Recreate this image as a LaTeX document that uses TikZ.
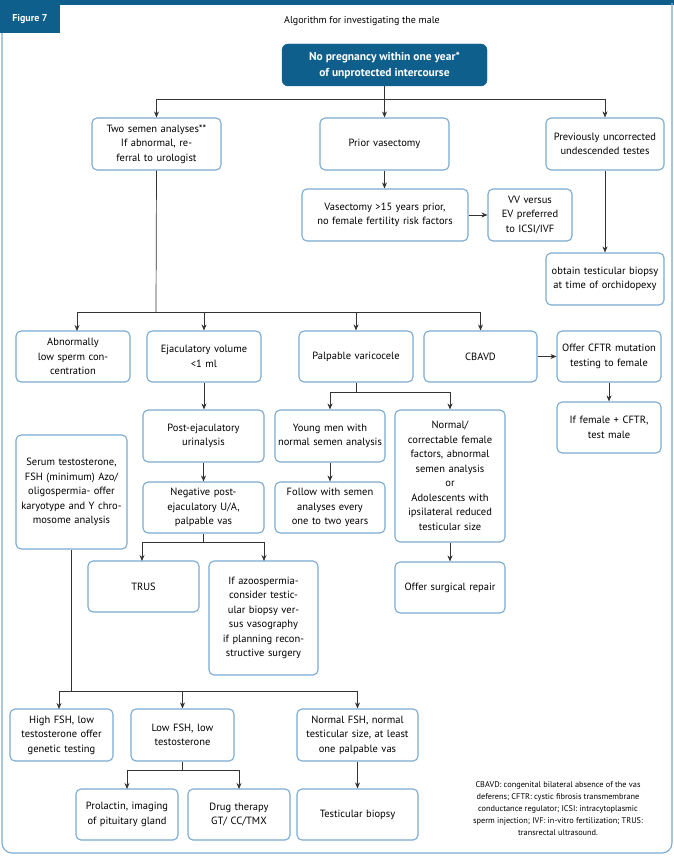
\documentclass[tikz,border=0pt]{standalone}
\usepackage{fontspec}
\setmainfont{PT Sans}
\usetikzlibrary{arrows.meta}
\definecolor{dblue}{HTML}{0F5F8C}
\definecolor{lblue}{HTML}{7AAAD2}
\begin{document}
\begin{tikzpicture}[x=1pt,y=-1pt,
  box/.style={draw=lblue,line width=1.1pt,rounded corners=5pt,align=center,inner sep=1pt,font=\fontsize{10.5}{14.5}\selectfont},
  arr/.style={-{Stealth[length=6pt,width=5pt]},line width=0.7pt,draw=black!80},
  ln/.style={line width=0.7pt,draw=black!80}]
\useasboundingbox (0,0) rectangle (674,856);
\fill[dblue] (0,0) rectangle (674,5);
\draw[lblue,line width=1.1pt,rounded corners=10pt] (2,3) -- (2,853) -- (672,853) -- (672,3);
\fill[dblue] (0,0) rectangle (60,33);
\node[text=white,font=\fontsize{10}{12}\selectfont\bfseries] (fig) at (30,19) {Figure 7};
\node[font=\fontsize{10}{12}\selectfont] (title) at (362,21) {Algorithm for investigating the male};
\newcommand\bx[6]{%
 \pgfmathsetmacro\bw{#4-#2}\pgfmathsetmacro\bh{#5-#3}\pgfmathsetmacro\tw{#4-#2-6}%
 \node[box,minimum width=\bw pt,minimum height=\bh pt,text width=\tw pt] (#1) at ({(#2+#4)/2},{(#3+#5)/2}) {#6};}
\node[draw=dblue,fill=dblue,rounded corners=6pt,minimum width=205pt,minimum height=42pt,text=white,align=center,font=\fontsize{11.5}{16}\selectfont\bfseries] (root) at (384.5,65) {No pregnancy within one year*\\of unprotected intercourse};
\bx{semen}{92}{118}{221}{170}{Two semen analyses**\\If abnormal, referral to urologist}
\bx{prior}{320}{118}{449}{170}{Prior vasectomy}
\bx{prev}{546}{118}{664}{170}{Previously uncorrected undescended testes}
\bx{vas}{302}{189}{468}{241}{Vasectomy >15 years prior,\\no female fertility risk factors}
\bx{vv}{488}{189}{572}{241}{VV versus EV preferred to ICSI/IVF}
\bx{obt}{546}{253}{664}{305}{obtain testicular biopsy at time of orchidopexy}
\bx{abn}{16}{331}{130}{382}{Abnormally\\low sperm concentration}
\bx{ejac}{147}{331}{261}{382}{Ejaculatory volume\\<1 ml}
\bx{palp}{299}{331}{413}{382}{Palpable varicocele}
\bx{cbavd}{424}{331}{537}{382}{CBAVD}
\bx{cftr}{557}{331}{661}{382}{Offer CFTR mutation testing to female}
\bx{fem}{557}{402}{661}{453}{If female + CFTR,\\test male}
\bx{post}{143}{410}{264}{462}{Post-ejaculatory urinalysis}
\bx{neg}{143}{482}{264}{533}{Negative post-ejaculatory U/A, palpable vas}
\bx{young}{275}{410}{385}{462}{Young men with normal semen analysis}
\bx{follow}{275}{482}{385}{533}{Follow with semen analyses every one to two years}
\bx{norm}{395}{410}{505}{542}{Normal/\\correctable female factors, abnormal semen analysis\\or\\Adolescents with ipsilateral reduced testicular size}
\bx{serum}{16}{435}{127}{549}{Serum testosterone, FSH (minimum) Azo/ oligospermia- offer karyotype and Y~chromosome analysis}
\bx{trus}{88}{561}{199}{612}{TRUS}
\bx{azo}{209}{561}{318}{675}{If azoospermia-\\consider testicular biopsy versus vasography\\if planning reconstructive surgery}
\bx{surg}{395}{562}{505}{613}{Offer surgical repair}
\bx{high}{10}{709}{113}{761}{High FSH, low testosterone offer genetic testing}
\bx{low}{131}{709}{234}{761}{Low FSH, low testosterone}
\bx{nfsh}{297}{709}{418}{761}{Normal FSH, normal testicular size, at least one palpable vas}
\bx{prol}{76}{789}{178}{840}{Prolactin, imaging of pituitary gland}
\bx{drug}{188}{789}{290}{840}{Drug therapy GT/ CC/TMX}
\bx{tbio}{297}{789}{418}{840}{Testicular biopsy}
\node[align=center,font=\fontsize{8.3}{12}\selectfont] (foot) at (558,809) {CBAVD: congenital bilateral absence of the vas\\deferens; CFTR: cystic fibrosis transmembrane\\conductance regulator; ICSI: intracytoplasmic\\sperm injection; IVF: in-vitro fertilization; TRUS:\\transrectal ultrasound.};
% connectors
\coordinate (j0) at (384.5,99);
\draw[ln] (root.south) -- (j0);
\draw[ln] (semen.north |- j0) -- (prev.north |- j0);
\foreach \n in {semen,prior,prev} \draw[arr] (\n.north |- j0) -- (\n.north);
\draw[arr] (prior.south) -- (vas.north -| prior.south);
\draw[arr] (vas.east) -- (vv.west);
\draw[arr] (prev.south) -- (obt.north -| prev.south);
\coordinate (j1) at (156,312);
\draw[ln] (semen.south) -- (j1);
\draw[ln] (77,312) -- (cbavd.north |- j1);
\draw[arr] (77,312) -- (77,331);
\foreach \n in {ejac,palp,cbavd} \draw[arr] (\n.north |- j1) -- (\n.north);
\draw[arr] (cbavd.east) -- (cftr.west);
\draw[arr] (cftr.south) -- (fem.north);
\draw[arr] (ejac.south) -- (post.north -| ejac.south);
\draw[arr] (post.south) -- (neg.north);
\coordinate (j2) at (356,392);
\draw[ln] (palp.south) -- (j2);
\draw[ln] (young.north |- j2) -- (norm.north |- j2);
\draw[arr] (young.north |- j2) -- (young.north);
\draw[arr] (norm.north |- j2) -- (norm.north);
\draw[arr] (young.south) -- (follow.north);
\draw[arr] (norm.south) -- (surg.north -| norm.south);
\coordinate (j3) at (203.5,542);
\draw[ln] (neg.south) -- (j3);
\draw[ln] (142,542) -- (264,542);
\draw[arr] (142,542) -- (142,561);
\draw[arr] (264,542) -- (264,561);
\coordinate (j4) at (71.5,691);
\draw[ln] (serum.south) -- (j4);
\draw[ln] (59,691) -- (358,691);
\draw[arr] (59,691) -- (59,709);
\draw[arr] (low.north |- j4) -- (low.north);
\draw[arr] (nfsh.north |- j4) -- (nfsh.north);
\coordinate (j5) at (182.5,770);
\draw[ln] (low.south) -- (j5);
\draw[ln] (127,770) -- (239,770);
\draw[arr] (127,770) -- (127,789);
\draw[arr] (239,770) -- (239,789);
\draw[arr] (nfsh.south) -- (tbio.north);
\end{tikzpicture}
\end{document}
